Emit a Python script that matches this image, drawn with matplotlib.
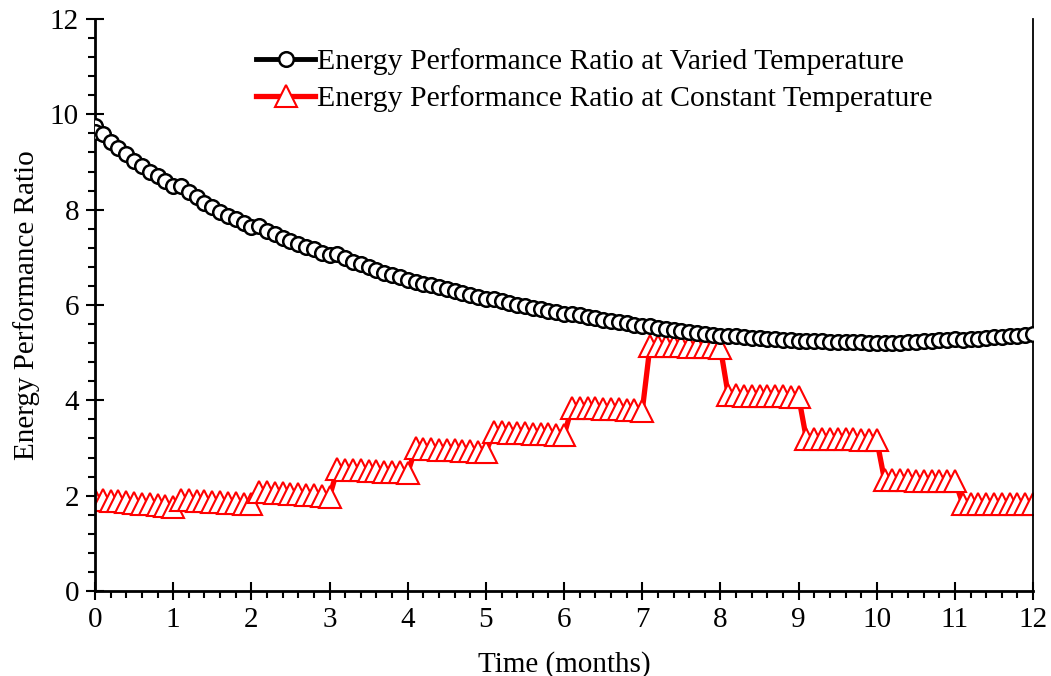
import numpy as np
import matplotlib
matplotlib.use("Agg")
import matplotlib.pyplot as plt
from matplotlib.ticker import MultipleLocator

plt.rcParams['font.family'] = ['Liberation Serif', 'DejaVu Serif']

# Time axis: 0.1-month steps from 0 to 12
months = np.round(np.arange(121) * 0.1, 1)

# Energy performance ratio at varied temperature (first reading at t=0 repeated)
epr_varied_start = 9.75
epr_varied = [
    9.63, 9.58, 9.43, 9.29, 9.16, 9.03, 8.91, 8.80, 8.70, 8.60, 8.50,
    8.50, 8.38, 8.26, 8.15, 8.05, 7.96, 7.87, 7.80, 7.71, 7.64,
    7.66, 7.56, 7.48, 7.41, 7.34, 7.28, 7.22, 7.17, 7.10, 7.05,
    7.07, 6.98, 6.91, 6.85, 6.79, 6.73, 6.68, 6.64, 6.58, 6.52,
    6.49, 6.45, 6.41, 6.37, 6.33, 6.29, 6.25, 6.21, 6.17, 6.13,
    6.12, 6.08, 6.05, 6.01, 5.98, 5.94, 5.91, 5.88, 5.85, 5.82,
    5.81, 5.78, 5.75, 5.72, 5.69, 5.67, 5.64, 5.62, 5.59, 5.56,
    5.55, 5.52, 5.50, 5.48, 5.46, 5.44, 5.42, 5.40, 5.38, 5.36,
    5.35, 5.34, 5.32, 5.31, 5.30, 5.29, 5.28, 5.27, 5.26, 5.25,
    5.25, 5.24, 5.24, 5.23, 5.23, 5.22, 5.22, 5.22, 5.21, 5.21,
    5.20, 5.21, 5.21, 5.22, 5.23, 5.24, 5.25, 5.26, 5.27, 5.28,
    5.26, 5.28, 5.29, 5.31, 5.32, 5.33, 5.35, 5.36, 5.38, 5.40,
]

# Energy performance ratio at constant temperature
epr_constant = [
    1.92, 1.91, 1.89, 1.88, 1.86, 1.85, 1.83, 1.82, 1.80, 1.79, 1.77,
    1.91, 1.90, 1.89, 1.88, 1.87, 1.86, 1.85, 1.84, 1.83, 1.82,
    2.08, 2.07, 2.06, 2.05, 2.04, 2.03, 2.02, 2.01, 2.00, 1.98,
    2.55, 2.54, 2.54, 2.53, 2.52, 2.51, 2.50, 2.50, 2.49, 2.48,
    2.99, 2.98, 2.97, 2.96, 2.96, 2.95, 2.94, 2.93, 2.92, 2.91,
    3.34, 3.33, 3.32, 3.32, 3.31, 3.30, 3.29, 3.29, 3.28, 3.27,
    3.85, 3.84, 3.84, 3.83, 3.82, 3.81, 3.81, 3.80, 3.79, 3.78,
    5.15, 5.14, 5.14, 5.13, 5.13, 5.12, 5.12, 5.11, 5.11, 5.10,
    4.11, 4.11, 4.10, 4.10, 4.10, 4.09, 4.09, 4.09, 4.08, 4.08,
    3.19, 3.19, 3.19, 3.18, 3.18, 3.18, 3.18, 3.17, 3.17, 3.17,
    2.32, 2.32, 2.32, 2.32, 2.31, 2.31, 2.31, 2.31, 2.31, 2.31,
    1.83, 1.83, 1.83, 1.83, 1.83, 1.83, 1.83, 1.83, 1.83, 1.83,
]

label_varied = "Energy Performance Ratio at Varied Temperature"
label_constant = "Energy Performance Ratio at Constant Temperature"

x_varied = np.concatenate([[0.0], months])
y_varied = np.concatenate([[epr_varied_start], epr_varied])

FS = 21
LEG_FS = 21.4

fig = plt.figure(figsize=(10.51, 6.76), dpi=100)
ax = fig.add_axes([0.0904, 0.1257, 0.8926, 0.8462])

ax.plot(x_varied, y_varied, color='black', lw=3.5, marker='o', ms=10.5,
        mfc='white', mec='black', mew=1.8, label=label_varied, zorder=3)
ax.plot(months, epr_constant, color='red', lw=3.8, marker='^', ms=16,
        mfc='white', mec='red', mew=1.5, label=label_constant, zorder=2)

ax.set_xlim(0, 12)
ax.set_ylim(0, 12)
ax.xaxis.set_major_locator(MultipleLocator(1))
ax.xaxis.set_minor_locator(MultipleLocator(0.2))
ax.yaxis.set_major_locator(MultipleLocator(2))
ax.yaxis.set_minor_locator(MultipleLocator(0.4))

ax.tick_params(which='major', direction='inout', length=13, width=1.5,
               labelsize=FS, pad=5)
ax.tick_params(which='minor', direction='out', length=5, width=1.5)

ax.spines['top'].set_visible(False)
ax.spines['left'].set_linewidth(2)
ax.spines['bottom'].set_linewidth(2)
ax.spines['right'].set_linewidth(1.3)

ax.set_xlabel("Time (months)", fontsize=FS, labelpad=13)
ax.set_ylabel("Energy Performance Ratio", fontsize=FS, labelpad=7)

ax.legend(loc='upper center', bbox_to_anchor=(0.532, 0.985), frameon=False,
          fontsize=LEG_FS, handlelength=2.0, handletextpad=0.05, borderaxespad=0.3,
          labelspacing=0.33)

fig.savefig("out.png", dpi=100)
